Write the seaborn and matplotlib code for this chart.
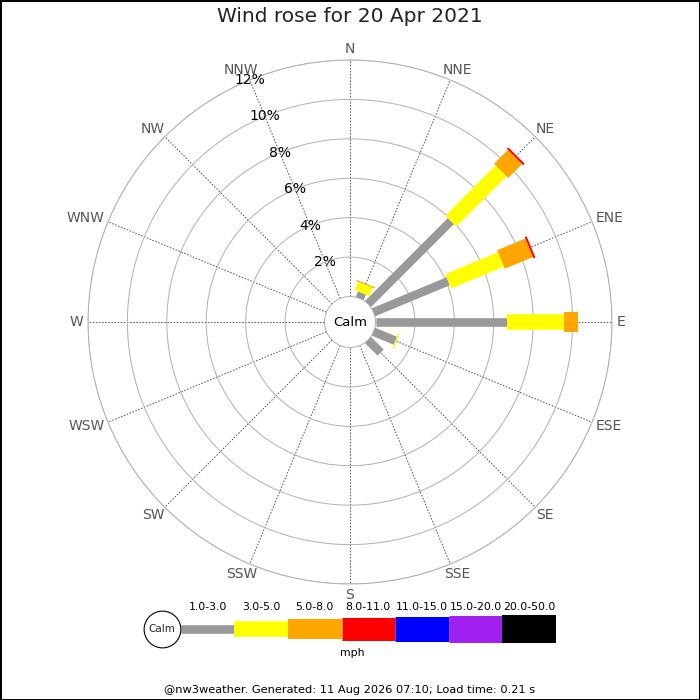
import numpy as np
import pandas as pd
import matplotlib
matplotlib.use("Agg")
import matplotlib.pyplot as plt
import seaborn as sns

# data (percent of the day per direction and speed bin)
directions = ["N", "NNE", "NE", "ENE", "E", "ESE", "SE", "SSE",
              "S", "SSW", "SW", "WSW", "W", "WNW", "NW", "NNW"]
speed_bins = ["1.0-3.0", "3.0-5.0", "5.0-8.0", "8.0-11.0",
              "11.0-15.0", "15.0-20.0", "20.0-50.0"]
freq_1_3 = [0, 0.30, 5.95, 4.10, 6.65, 1.20, 0.90, 0, 0, 0, 0, 0, 0, 0, 0, 0]
freq_3_5 = [0, 0.45, 3.60, 2.90, 2.90, 0.07, 0, 0, 0, 0, 0, 0, 0, 0, 0, 0]
freq_5_8 = [0, 0.06, 1.00, 1.55, 0.75, 0, 0, 0, 0, 0, 0, 0, 0, 0, 0, 0]
freq_8_11 = [0, 0, 0.10, 0.10, 0, 0, 0, 0, 0, 0, 0, 0, 0, 0, 0, 0]
freq_11_15 = [0] * 16
freq_15_20 = [0] * 16
freq_20_50 = [0] * 16
ring_ticks = [2, 4, 6, 8, 10, 12]

# styles
bin_colors = ["#999999", "#ffff00", "#ffa500", "#ff0000", "#0000ff", "#a020f0", "#000000"]
bin_widths = [6.2, 11.2, 14.4, 16.6, 18.0, 19.4, 20.2]
palette = dict(zip(speed_bins, bin_colors))
sizes = dict(zip(speed_bins, bin_widths))

freqs = [freq_1_3, freq_3_5, freq_5_8, freq_8_11, freq_11_15, freq_15_20, freq_20_50]
angles = np.deg2rad(np.arange(16) * 22.5)

rows = []
seg = 0
for i, d in enumerate(directions):
    cum = 0.0
    for b, name in enumerate(speed_bins):
        v = freqs[b][i]
        if v > 0:
            rows.append({"theta": angles[i], "r": cum, "speed": name, "seg": seg})
            rows.append({"theta": angles[i], "r": cum + v, "speed": name, "seg": seg})
            cum += v
            seg += 1
segs = pd.DataFrame(rows)

sns.set_style("white")

fig = plt.figure(figsize=(7, 7), dpi=100, linewidth=2, edgecolor="black")
ax = fig.add_axes([88 / 700, 116 / 700, 524 / 700, 524 / 700], projection="polar")
ax.set_theta_zero_location("N")
ax.set_theta_direction(-1)

sns.lineplot(data=segs, x="theta", y="r", hue="speed", size="speed",
             palette=palette, sizes=sizes, hue_order=speed_bins, size_order=speed_bins,
             units="seg", estimator=None, sort=False, legend=False,
             solid_capstyle="butt", ax=ax, zorder=3)

ax.set_rorigin(-1.294)
ax.set_ylim(0, 12)
ax.set_xlabel("")
ax.set_ylabel("")
ax.set_axisbelow(True)

ax.set_xticks(angles)
ax.set_xticklabels([])
ax.set_yticks(ring_ticks)
ax.set_yticklabels([])
ax.xaxis.grid(True, linestyle=(0, (1.6, 1.6)), color="#555555", linewidth=0.7)
ax.yaxis.grid(True, linestyle="-", color="#b0b0b0", linewidth=0.7)
for name in ["polar", "inner"]:
    if name in ax.spines:
        ax.spines[name].set_color("#b0b0b0")
        ax.spines[name].set_linewidth(0.7)

# compass labels: box pushed outward so its near edge touches a point just outside the ring
dir_labels = []
for th, d in zip(angles, directions):
    t = ax.annotate(d, xy=(th, 12), xytext=(0, 0), textcoords="offset pixels",
                    ha="center", va="center", fontsize=10, color="#555555",
                    annotation_clip=False)
    dir_labels.append((th, t))
fig.canvas.draw()
renderer = fig.canvas.get_renderer()
gap = 5
for th, t in dir_labels:
    bb = t.get_window_extent(renderer)
    w, h = bb.width, bb.height * 0.8
    t.xyann = ((gap + w / 2) * np.sin(th), (gap + h / 2) * np.cos(th))

for r in ring_ticks:
    ax.text(np.deg2rad(337.5), r, f"{r}%", ha="center", va="center",
            fontsize=10, color="black", zorder=4)

ax.text(0, -1.294, "Calm", ha="center", va="center", fontsize=9.5, color="black")

fig.text(0.5, 1 - 17 / 700, "Wind rose for 20 Apr 2021", ha="center", va="center",
         fontsize=14.5, color="#222222")

# legend strip
unit = 53.6
lax = fig.add_axes([(180.7 - 0.75 * unit) / 700, 40 / 700, 7.75 * unit / 700, 60 / 700])
lax.set_xlim(-0.75, 7)
lax.set_ylim(-31, 29)
leg = pd.DataFrame({"x": [p for b in range(7) for p in (b, b + 1)],
                    "y": [0] * 14,
                    "speed": [s for s in speed_bins for _ in range(2)],
                    "seg": [b for b in range(7) for _ in range(2)]})
sns.lineplot(data=leg, x="x", y="y", hue="speed", size="speed",
             palette=palette, sizes=sizes, hue_order=speed_bins, size_order=speed_bins,
             units="seg", estimator=None, sort=False, legend=False,
             solid_capstyle="butt", ax=lax)
lax.axis("off")
lax.scatter([-(180.7 - 162.3) / unit], [0], s=700, facecolor="white",
            edgecolor="black", linewidth=0.8, zorder=3, clip_on=False)
lax.text(-(180.7 - 162.3) / unit, 0, "Calm", ha="center", va="center", fontsize=7.5, zorder=4)
for b, name in enumerate(speed_bins):
    lax.text(b + 0.5, 22.5, name, ha="center", va="center", fontsize=7.8, color="black")
lax.text(3.2, -24, "mph", ha="center", va="center", fontsize=7.8, color="black")

fig.text(0.5, 1 - 690 / 700, "@nw3weather. Generated: 11 Aug 2026 07:10; Load time: 0.21 s",
         ha="center", va="center", fontsize=8.2, color="black")

fig.savefig("out.png", dpi=100)
